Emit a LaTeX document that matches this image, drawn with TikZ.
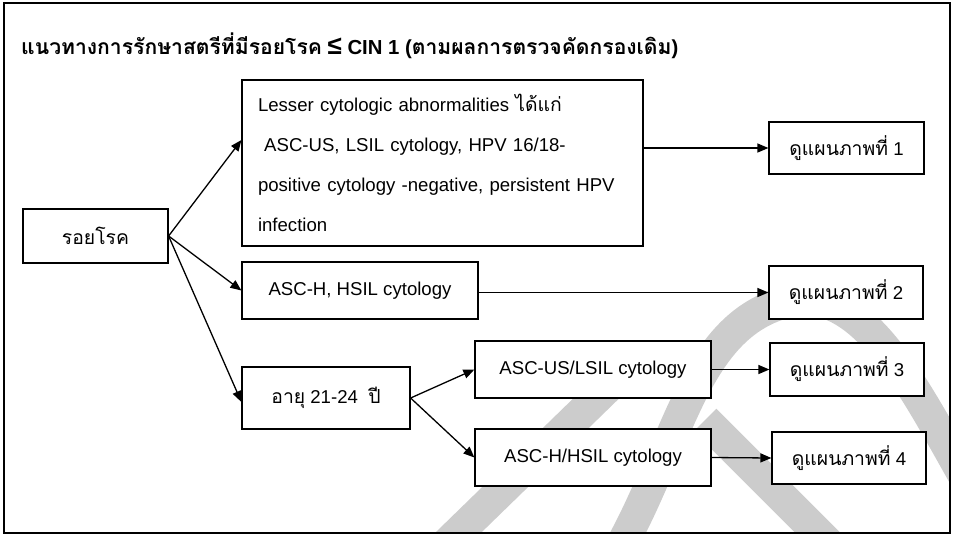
\documentclass[tikz,border=0pt]{standalone}
\usepackage{fontspec}
\setmainfont{Liberation Sans}
\newfontfamily\thaifont[Script=Thai,Scale=1.04]{Loma}
\usetikzlibrary{arrows.meta,positioning}
\definecolor{wm}{RGB}{204,204,204}

\begin{document}
\begin{tikzpicture}[
      x=1pt, y=-1pt,
      box/.style={draw, fill=white, line width=1.2pt, inner sep=0pt,
        align=center, font=\fontsize{18.6}{40}\selectfont},
      arr/.style={-{Triangle[length=11pt,width=9pt]}, line width=1.3pt},
      wmark/.style={wm, line width=32pt}
    ]
      \useasboundingbox (0,0) rectangle (955,536);

      % watermark
      \begin{scope}
        \clip (4,3) rectangle (950,533);
        \draw[wmark] (425,565) -- (610,385);
        \draw[wmark] (610,565) .. controls (680,450) and (690,320) .. (795,300)
          .. controls (870,290) and (920,400) .. (975,495);
        \draw[wmark] (705,420) -- (850,565);
      \end{scope}

      \draw[line width=1.3pt] (4,3) rectangle (950,533);

      \node[anchor=west, inner sep=0pt, font=\bfseries\fontsize{20.3}{24}\selectfont] (title) at (21,46)
        {{\thaifont แนวทางการรักษาสตรีที่มีรอยโรค} {\fontsize{26}{26}\selectfont ≤} CIN 1 ({\thaifont ตามผลการตรวจคัดกรองเดิม})};

      \node[box, minimum width=145pt, minimum height=54pt] (lesion) at (95.5,236) {\thaifont รอยโรค};
      \node[box, text width=369pt, align=left, inner xsep=16pt, minimum height=166pt] (lesser) at (442.5,163)
        {Lesser cytologic abnormalities {\thaifont ได้แก่}\\
         \ ASC-US, LSIL cytology, HPV 16/18-\\
         positive cytology -negative, persistent HPV\\
         infection};
      \node[box, minimum width=236pt, minimum height=57pt] (asch) at (360,290.5) {ASC-H, HSIL cytology};
      \node[box, minimum width=168pt, minimum height=62pt] (age) at (326,398) {{\thaifont อายุ} 21-24\ \ {\thaifont ปี}};
      \node[box, minimum width=236pt, minimum height=57pt] (ascus) at (593,369.5) {ASC-US/LSIL cytology};
      \node[box, minimum width=236pt, minimum height=57pt] (aschsil) at (593,457.5) {ASC-H/HSIL cytology};

      \node[box, minimum width=155pt, minimum height=52pt] (see1) at (846.5,148) {{\thaifont ดูแผนภาพที่} 1};
      \node[box, minimum width=154pt, minimum height=53pt] (see2) at (846,292.5) {{\thaifont ดูแผนภาพที่} 2};
      \node[box, minimum width=154pt, minimum height=53pt] (see3) at (847,369.5) {{\thaifont ดูแผนภาพที่} 3};
      \node[box, minimum width=154pt, minimum height=52pt] (see4) at (849,458) {{\thaifont ดูแผนภาพที่} 4};

      % branches
      \draw[arr] (lesion.east) -- ([yshift=23pt]lesser.west);
      \draw[arr] (lesion.east) -- (asch.west);
      \draw[arr] (lesion.east) -- ([yshift=-4pt]age.west);
      \draw[arr] (age.east) -- (ascus.west);
      \draw[arr] (age.east) -- (aschsil.west);

      % to the plans
      \draw[arr] (lesser.east |- see1.west) -- (see1.west);
      \draw[arr] (asch.east |- see2.west) -- (see2.west);
      \draw[arr] (ascus.east) -- (see3.west);
      \draw[arr] (aschsil.east) -- (see4.west);
    \end{tikzpicture}
\end{document}
